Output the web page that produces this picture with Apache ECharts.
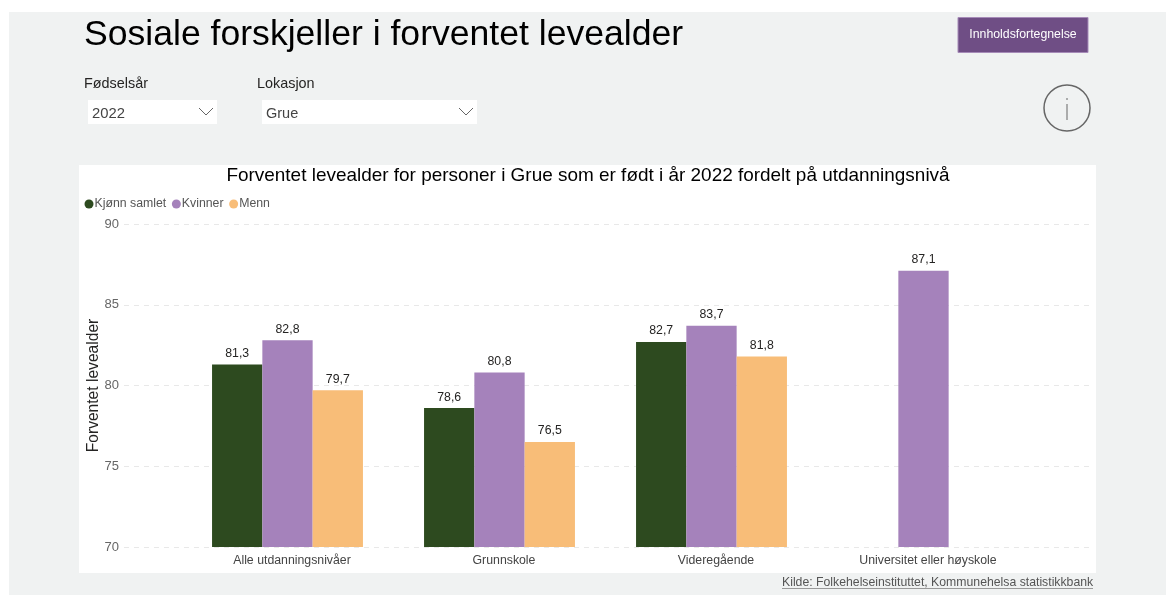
<!DOCTYPE html>
<html>
<head>
<meta charset="utf-8">
<style>html,body{margin:0;padding:0;background:#fff}#c{width:1166px;height:595px}</style>
<script src="https://cdn.jsdelivr.net/npm/echarts@6/dist/echarts.min.js"></script>
</head>
<body>
<div id="c"></div>
<script>
const categories = ["Alle utdanningsnivåer", "Grunnskole", "Videregående", "Universitet eller høyskole"];
const samlet = [81.3, 78.6, 82.7, null];
const kvinner = [82.8, 80.8, 83.7, 87.1];
const menn = [79.7, 76.5, 81.8, null];
const yTicks = {min: 70, max: 90, step: 5};

const FONT = '"Liberation Sans", Arial, sans-serif';
const fmt = p => p.value == null ? '' : String(p.value).replace('.', ',');
const txt = (x, y, text, size, fill, extra) => ({
  type: 'text', x, y, z: 1,
  style: Object.assign({text, fontFamily: FONT, fontSize: size, fill, textVerticalAlign: 'middle'}, extra || {})
});
const rect = (x, y, w, h, fill, extra) => ({
  type: 'rect', z: 0, shape: {x, y, width: w, height: h}, style: Object.assign({fill}, extra || {})
});
const line = (x1, y1, x2, y2, stroke, lineWidth) => ({
  type: 'line', z: 1, shape: {x1, y1, x2, y2}, style: {stroke, lineWidth}
});
const chevron = (x, y) => ({
  type: 'polyline', z: 1, shape: {points: [[x, y], [x + 7, y + 7], [x + 14, y]]},
  style: {stroke: '#666', lineWidth: 1, fill: 'none'}
});
const bar = (name, data, color) => ({
  name, type: 'bar', data, xAxisIndex: 1, yAxisIndex: 1,
  barWidth: 50.3, barGap: 0, itemStyle: {color},
  label: {show: true, position: 'top', distance: 5, formatter: fmt, color: '#252423', fontSize: 12.3, fontFamily: FONT}
});

const chart = echarts.init(document.getElementById('c'), null, {renderer: 'canvas'});
chart.setOption({
  animation: false,
  backgroundColor: '#fff',
  textStyle: {fontFamily: FONT},
  graphic: {elements: [
    rect(9, 12, 1157, 583, '#f0f2f2'),
    rect(79, 165, 1017, 408, '#fff'),
    txt(84, 35, 'Sosiale forskjeller i forventet levealder', 35.6, '#000'),
    txt(84, 84, 'Fødselsår', 14.4, '#252423'),
    txt(257, 84, 'Lokasjon', 14.4, '#252423'),
    rect(88, 100, 129, 24, '#fff'),
    rect(262, 100, 215, 24, '#fff'),
    txt(92, 114, '2022', 14.8, '#444'),
    txt(266, 114, 'Grue', 14.5, '#444'),
    chevron(199, 108),
    chevron(459, 108),
    rect(958, 17.5, 130, 35, '#6f4e85', {stroke: '#a68bb8', lineWidth: 1}),
    txt(1023, 35, 'Innholdsfortegnelse', 12.3, '#fff', {textAlign: 'center'}),
    {type: 'circle', z: 1, shape: {cx: 1067, cy: 108, r: 23}, style: {fill: 'none', stroke: '#666', lineWidth: 1.5}},
    line(1067, 104, 1067, 120, '#666', 1),
    line(1067, 98, 1067, 100, '#666', 1),
    txt(588, 176, 'Forventet levealder for personer i Grue som er født i år 2022 fordelt på utdanningsnivå', 18.95, '#000', {textAlign: 'center'}),
    txt(782, 583, 'Kilde: Folkehelseinstituttet, Kommunehelsa statistikkbank', 12.26, '#555'),
    line(782, 588.5, 1093, 588.5, '#999', 1)
  ]},
  legend: {
    left: 79.5, top: 193, icon: 'circle', itemWidth: 9, itemHeight: 9, itemGap: 5.6,
    textStyle: {color: '#555', fontSize: 12.3, fontFamily: FONT, padding: [0, 0, 0, -4]},
    data: ['Kjønn samlet', 'Kvinner', 'Menn']
  },
  grid: [
    {left: 124, top: 224, width: 966, height: 323},
    {left: 181.5, top: 224, width: 848, height: 323}
  ],
  xAxis: [
    {gridIndex: 0, type: 'category', data: categories, show: false},
    {gridIndex: 1, type: 'category', data: categories,
      axisLine: {show: false}, axisTick: {show: false},
      axisLabel: {color: '#444', fontSize: 12.3, margin: 8, padding: [0, 0, 0, 9], fontFamily: FONT, interval: 0}}
  ],
  yAxis: [
    {gridIndex: 0, type: 'value', min: yTicks.min, max: yTicks.max, interval: yTicks.step,
      name: 'Forventet levealder', nameLocation: 'middle', nameGap: 22, nameMoveOverlap: false,
      nameTextStyle: {color: '#252423', fontSize: 15.6, fontFamily: FONT},
      axisLine: {show: false}, axisTick: {show: false},
      axisLabel: {color: '#666', fontSize: 13, margin: 5, padding: [2, 0, 0, 0], fontFamily: FONT},
      splitLine: {show: true, lineStyle: {color: '#e8e8e8', type: [5, 5], width: 1}}},
    {gridIndex: 1, type: 'value', min: yTicks.min, max: yTicks.max, interval: yTicks.step, show: false, splitLine: {show: false}}
  ],
  series: [
    bar('Kjønn samlet', samlet, '#2d4a1f'),
    bar('Kvinner', kvinner, '#a582bb'),
    bar('Menn', menn, '#f8bd78')
  ]
});
</script>
</body>
</html>
